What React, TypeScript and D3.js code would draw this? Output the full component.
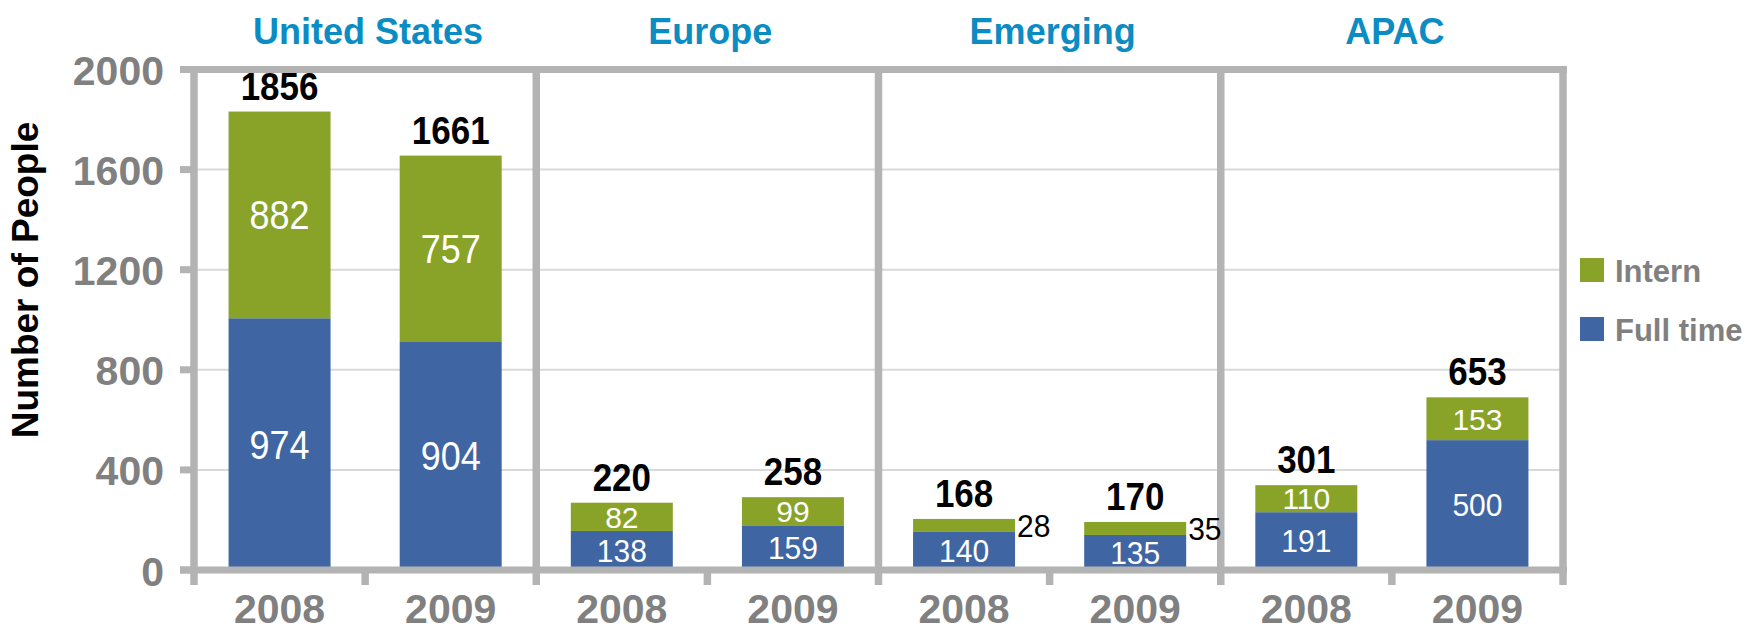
import React from "react";
import * as d3 from "d3";

const groups = ["United States", "Europe", "Emerging", "APAC"];
const years = ["2008", "2009"];
// bar segment heights as drawn in the picture
const fullTimeBar = [1006, 914, 156, 176, 152, 140, 231, 519];
const internBar = [826, 742, 113, 115, 52, 52, 108, 171];
// numbers printed on the chart
const fullTimeLabel = [974, 904, 138, 159, 140, 135, 191, 500];
const internLabel = [882, 757, 82, 99, 28, 35, 110, 153];
const totalLabel = [1856, 1661, 220, 258, 168, 170, 301, 653];
const yTicks = [0, 400, 800, 1200, 1600, 2000];
const seriesNames = ["Intern", "Full time"];

const W = 1764;
const H = 626;
const GREEN = "#89a329";
const BLUE = "#3f66a3";
const AXIS = "#b3b3b3";
const GRID = "#d9d9d9";
const GREYTXT = "#808080";
const TITLE = "#0b8cc2";
const FONT = "'Liberation Sans', Arial, sans-serif";

function SText(props: {
  x: number;
  y: number;
  dy?: string;
  anchor: string;
  fill: string;
  size: number;
  stretch?: number;
  bold?: boolean;
  children: React.ReactNode;
}) {
  return (
    <text
      transform={`translate(${props.x},${props.y}) scale(1,${props.stretch ?? 1})`}
      dy={props.dy}
      textAnchor={props.anchor}
      fill={props.fill}
      fontSize={props.size}
      fontWeight={props.bold ? "bold" : "normal"}
    >
      {props.children}
    </text>
  );
}

export default function App() {
  const keys = groups.flatMap((g) => years.map((y) => `${g}|${y}`));
  const x = d3
    .scaleBand<string>()
    .domain(keys)
    .range([194, 1563])
    .paddingInner(0.404)
    .paddingOuter(0.202);
  const y = d3.scaleLinear().domain([0, 2000]).range([570, 69.5]);
  const step = x.step();
  const left = 194;
  const right = 1563;
  const top = y(2000);
  const base = y(0);
  const boundaries = d3.range(keys.length + 1).map((i) => left + i * step);

  const bars = keys.map((k, i) => {
    const bx = x(k)!;
    const bw = x.bandwidth();
    const ftTop = y(fullTimeBar[i]);
    const totTop = y(fullTimeBar[i] + internBar[i]);
    return { k, i, bx, bw, ftTop, totTop, ftH: base - ftTop, inH: ftTop - totTop, cx: bx + bw / 2 };
  });

  return (
    <svg
      width={W}
      height={H}
      style={{ position: "absolute", left: 0, top: 0, background: "#fff" }}
      fontFamily={FONT}
    >
      {/* gridlines */}
      {yTicks
        .filter((t) => t > 0 && t < 2000)
        .map((t) => (
          <line key={"g" + t} x1={left} x2={right} y1={y(t)} y2={y(t)} stroke={GRID} strokeWidth={2} />
        ))}

      {/* bars */}
      {bars.map((b) => {
        const bigFt = b.ftH > 150;
        const bigIn = b.inH > 150;
        return (
          <g key={b.k}>
            <rect x={b.bx} y={b.ftTop} width={b.bw} height={b.ftH} fill={BLUE} />
            <rect x={b.bx} y={b.totTop} width={b.bw} height={b.inH} fill={GREEN} />
            <SText
              x={b.cx}
              y={(b.ftTop + base) / 2}
              dy="0.36em"
              anchor="middle"
              fill="#fff"
              size={bigFt ? 36 : 30}
              stretch={bigFt ? 1.12 : 1.04}
            >
              {fullTimeLabel[b.i]}
            </SText>
            {b.inH > 25 && (
              <SText
                x={b.cx}
                y={(b.totTop + b.ftTop) / 2}
                dy="0.36em"
                anchor="middle"
                fill="#fff"
                size={bigIn ? 36 : 30}
                stretch={bigIn ? 1.12 : 1.0}
              >
                {internLabel[b.i]}
              </SText>
            )}
            <SText x={b.cx} y={b.totTop - 12} anchor="middle" fill="#000" size={35} stretch={1.12} bold>
              {totalLabel[b.i]}
            </SText>
          </g>
        );
      })}

      {/* frame, dividers and ticks */}
      <line x1={180} x2={right + 4} y1={top} y2={top} stroke={AXIS} strokeWidth={7} />
      <line x1={180} x2={right + 4} y1={base} y2={base} stroke={AXIS} strokeWidth={7} />
      {yTicks.map((t) => (
        <line key={"yt" + t} x1={180} x2={left} y1={y(t)} y2={y(t)} stroke={AXIS} strokeWidth={7} />
      ))}
      {boundaries.map((bx, i) => (
        <line
          key={"b" + i}
          x1={bx}
          x2={bx}
          y1={i % 2 === 0 ? top - 3.5 : base}
          y2={585}
          stroke={AXIS}
          strokeWidth={7.5}
        />
      ))}

      {/* small intern values placed beside their bars */}
      {bars
        .filter((b) => b.inH <= 25)
        .map((b) => (
          <SText key={"out" + b.k} x={b.bx + b.bw + 2} y={(b.totTop + b.ftTop) / 2} dy="0.36em" anchor="start" fill="#000" size={30} stretch={1.06}>
            {internLabel[b.i]}
          </SText>
        ))}

      {/* y tick labels */}
      {yTicks.map((t) => (
        <text
          key={"yl" + t}
          x={164}
          y={y(t)}
          dy="0.38em"
          textAnchor="end"
          fill={GREYTXT}
          fontWeight="bold"
          fontSize={41}
        >
          {t}
        </text>
      ))}

      {/* x labels */}
      {keys.map((k) => (
        <text
          key={"xl" + k}
          x={x(k)! + x.bandwidth() / 2}
          y={623}
          textAnchor="middle"
          fill={GREYTXT}
          fontWeight="bold"
          fontSize={41}
        >
          {k.split("|")[1]}
        </text>
      ))}

      {/* group titles */}
      {groups.map((g, gi) => (
        <text
          key={"t" + g}
          x={(boundaries[gi * 2] + boundaries[gi * 2 + 2]) / 2 + 3}
          y={44}
          textAnchor="middle"
          fill={TITLE}
          fontWeight="bold"
          fontSize={36}
        >
          {g}
        </text>
      ))}

      {/* y axis title */}
      <text
        transform={`translate(38,280) rotate(-90)`}
        textAnchor="middle"
        fill="#000"
        fontWeight="bold"
        fontSize={37}
      >
        Number of People
      </text>

      {/* legend */}
      {seriesNames.map((s, i) => (
        <g key={"lg" + s} transform={`translate(1580,${258 + i * 59})`}>
          <rect x={0} y={0} width={24} height={24} fill={i === 0 ? GREEN : BLUE} />
          <text x={35} y={24} fill={GREYTXT} fontWeight="bold" fontSize={31}>
            {s}
          </text>
        </g>
      ))}
    </svg>
  );
}
